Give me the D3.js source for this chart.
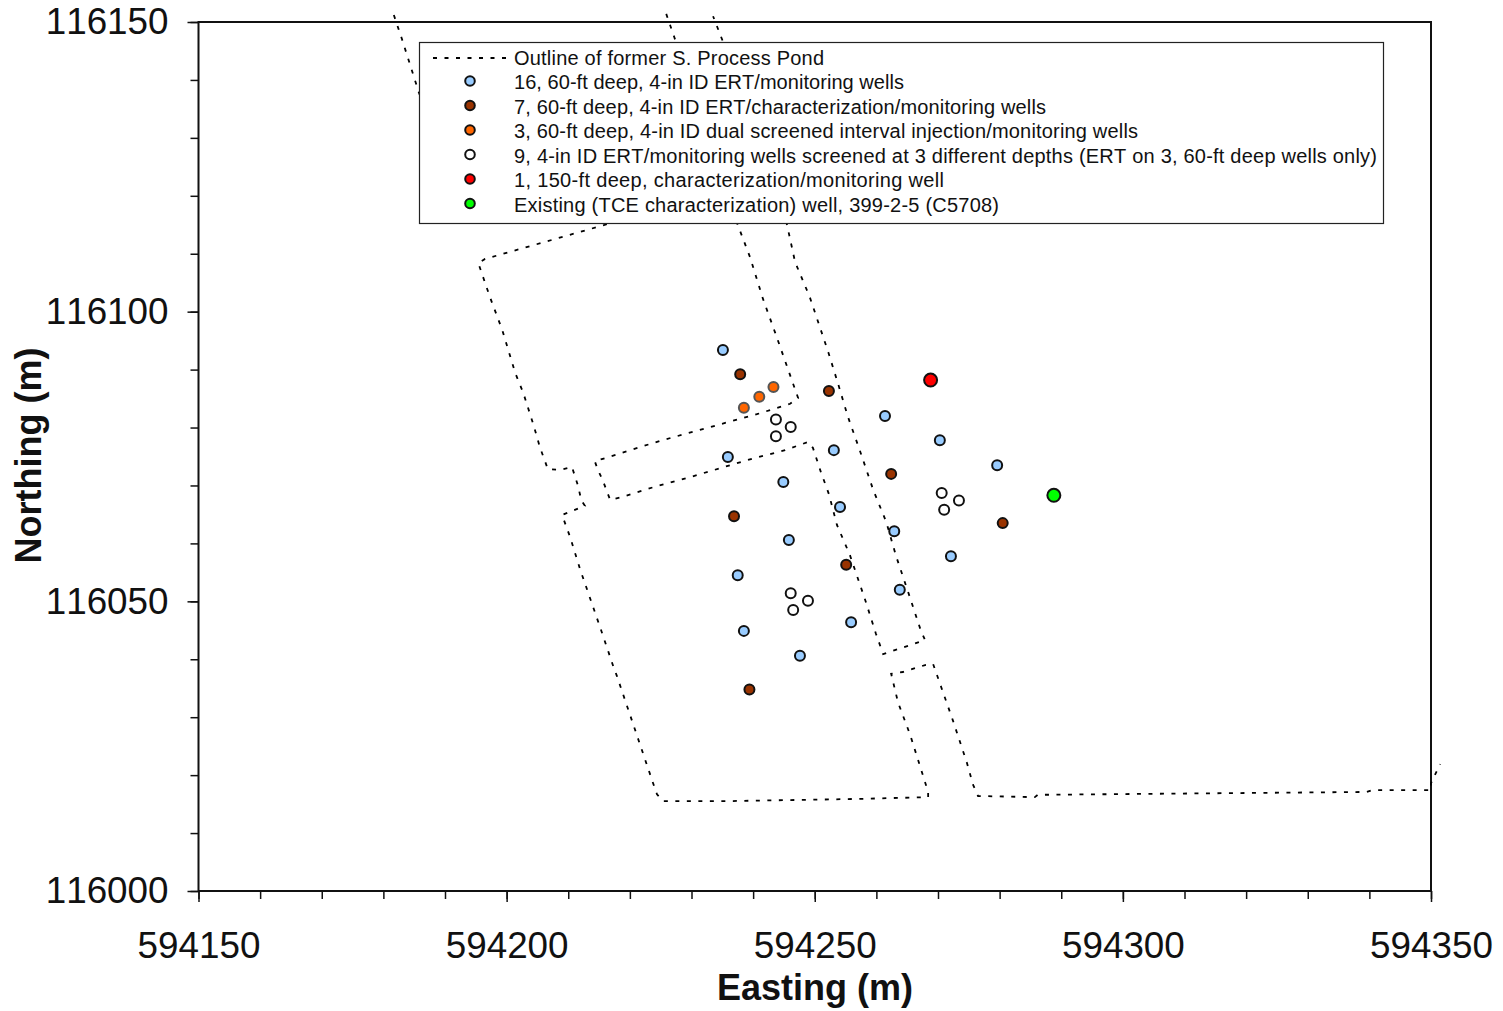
<!DOCTYPE html>
<html>
<head>
<meta charset="utf-8">
<title>Well layout</title>
<script src="https://cdn.jsdelivr.net/npm/d3@7"></script>
<style>
    body { margin: 0; background: #fff; }
    text { font-family: "Liberation Sans", Arial, sans-serif; fill: #111; font-kerning: none; }
    .domain { display: none; }
    .tick line { stroke: #111; stroke-width: 1.5; }
    .outline { fill: none; stroke: #000; stroke-width: 1.8; stroke-dasharray: 4 7.5; }
    .well { stroke: #111; stroke-width: 2; }
</style>
</head>
<body>
<svg id="chart"></svg>
<script>
// Wells, [easting, northing] in metres
const blueWells = [
    [594235.1, 116093.4], [594261.4, 116082.0], [594270.3, 116077.8], [594279.6, 116073.5],
    [594253.1, 116076.1], [594235.9, 116074.9], [594244.9, 116070.6], [594254.1, 116066.3],
    [594262.9, 116062.1], [594272.1, 116057.8], [594245.8, 116060.6], [594237.5, 116054.5],
    [594263.8, 116052.0], [594255.9, 116046.4], [594238.5, 116044.9], [594247.6, 116040.6]
];
const brownWells = [
    [594237.9, 116089.2], [594252.3, 116086.3], [594262.4, 116072.0], [594236.9, 116064.7],
    [594280.5, 116063.5], [594255.1, 116056.3], [594239.4, 116034.8]
];
const orangeWells = [[594238.5, 116083.4], [594241.0, 116085.3], [594243.3, 116087.0]];
const whiteWells = [
    [594243.7, 116081.4], [594246.1, 116080.1], [594243.7, 116078.5],
    [594270.6, 116068.7], [594273.4, 116067.4], [594271.0, 116065.8],
    [594246.1, 116051.4], [594248.9, 116050.1], [594246.5, 116048.5]
];
const redWells = [[594268.8, 116088.2]];
const greenWells = [[594288.8, 116068.3]];

// Outline of the former pond, one array per dotted run
const outlineNorthWest = [
    [594181.7, 116151.2], [594183.0, 116147.1], [594185.8, 116137.7], [594192.4, 116120.1]
];
const outlinePond = [
    [594221.6, 116116.9], [594216.3, 116115.1], [594196.5, 116109.1], [594195.4, 116108.4],
    [594197.3, 116102.5], [594199.3, 116096.8], [594201.4, 116089.4], [594202.7, 116086.0],
    [594204.4, 116080.3], [594205.4, 116076.6], [594206.7, 116072.8], [594208.7, 116072.7],
    [594210.6, 116073.2], [594211.6, 116069.9], [594212.1, 116067.5], [594212.7, 116066.5],
    [594209.0, 116064.9], [594210.3, 116061.1], [594211.9, 116055.6], [594215.5, 116044.5],
    [594217.3, 116038.8], [594217.9, 116037.1], [594223.8, 116018.5], [594224.4, 116016.7],
    [594225.4, 116015.5], [594235.1, 116015.5], [594257.3, 116015.9], [594268.4, 116016.2],
    [594268.4, 116017.1], [594265.5, 116026.9], [594263.5, 116032.6], [594262.4, 116037.5],
    [594264.3, 116037.8], [594267.9, 116039.0], [594269.2, 116039.2], [594272.4, 116029.5],
    [594274.7, 116022.1], [594275.7, 116018.3], [594276.5, 116016.4], [594285.7, 116016.2],
    [594286.2, 116016.6], [594339.6, 116017.1], [594340.4, 116017.4], [594350.0, 116017.4],
    [594350.0, 116018.6], [594350.8, 116020.4], [594351.5, 116021.9]
];
const outlineCorridor = [
    [594225.9, 116151.4], [594227.2, 116147.4], [594237.5, 116115.0], [594239.5, 116109.4],
    [594241.6, 116102.2], [594243.6, 116096.3], [594247.3, 116085.1], [594246.0, 116084.1],
    [594240.6, 116082.3], [594224.9, 116077.7], [594215.6, 116074.6], [594214.3, 116074.2],
    [594214.8, 116072.7], [594215.6, 116070.9], [594216.8, 116067.5], [594218.7, 116068.0],
    [594223.8, 116069.7], [594229.3, 116071.3], [594239.8, 116074.6], [594245.2, 116076.1],
    [594248.9, 116077.5], [594249.7, 116076.5], [594251.0, 116072.3], [594252.3, 116068.5],
    [594253.6, 116063.2], [594255.7, 116058.0], [594258.2, 116050.2], [594259.9, 116044.5],
    [594261.1, 116040.9], [594267.9, 116043.3], [594267.2, 116045.0], [594265.0, 116052.1],
    [594263.2, 116057.8], [594261.6, 116063.7], [594259.5, 116069.2], [594257.3, 116076.1],
    [594255.4, 116081.8], [594253.8, 116087.5], [594252.2, 116093.0], [594249.2, 116102.5],
    [594246.8, 116108.6], [594245.5, 116115.0], [594235.0, 116146.9], [594233.5, 116151.0]
];

const xTicks = [594150, 594200, 594250, 594300, 594350];
const yTicks = [116000, 116050, 116100, 116150];
const xMinorTicks = d3.range(594150, 594351, 10);
const yMinorTicks = d3.range(116000, 116151, 10);

const legendLabels = [
    "Outline of former S. Process Pond",
    "16, 60-ft deep, 4-in ID ERT/monitoring wells",
    "7, 60-ft deep, 4-in ID ERT/characterization/monitoring wells",
    "3, 60-ft deep, 4-in ID dual screened interval injection/monitoring wells",
    "9, 4-in ID ERT/monitoring wells screened at 3 different depths (ERT on 3, 60-ft deep wells only)",
    "1, 150-ft deep, characterization/monitoring well",
    "Existing (TCE characterization) well, 399-2-5 (C5708)"
];
// the original spaces its legend text a bit wider than the font does
const legendTextWidths = [310, 390, 532, 624, 863, 430, 485];

const config = {
    width: 1503,
    height: 1011,
    left: 198.5,
    right: 1431,
    top: 22,
    bottom: 891
};

const svg = d3.select("#chart")
    .attr("width", config.width)
    .attr("height", config.height)
    .style("display", "block");

const x = d3.scaleLinear().domain([594150, 594350]).range([config.left, config.right]);
const y = d3.scaleLinear().domain([116000, 116150]).range([config.bottom, config.top]);

// Minor ticks first, then the long labelled ones
svg.append("g")
    .attr("transform", `translate(0,${config.bottom})`)
    .call(d3.axisBottom(x).tickValues(xMinorTicks).tickSize(8).tickFormat(""));
svg.append("g")
    .attr("transform", `translate(${config.left},0)`)
    .call(d3.axisLeft(y).tickValues(yMinorTicks).tickSize(8).tickFormat(""));

const xAxis = svg.append("g")
    .attr("transform", `translate(0,${config.bottom})`)
    .call(d3.axisBottom(x).tickValues(xTicks).tickSize(11).tickPadding(30).tickFormat(d3.format("d")));
const yAxis = svg.append("g")
    .attr("transform", `translate(${config.left},0)`)
    .call(d3.axisLeft(y).tickValues(yTicks).tickSize(11).tickPadding(19).tickFormat(d3.format("d")));
[xAxis, yAxis].forEach(a => {
    a.attr("font-family", null);
    a.selectAll("text").style("font-size", "36.8px");
});

svg.append("rect")
    .attr("x", config.left)
    .attr("y", config.top)
    .attr("width", config.right - config.left)
    .attr("height", config.bottom - config.top)
    .attr("fill", "none")
    .attr("stroke", "#111")
    .attr("stroke-width", 2);

// Axis titles
svg.append("text")
    .attr("x", 815)
    .attr("y", 1000)
    .attr("text-anchor", "middle")
    .style("font-size", "36px")
    .style("font-weight", "bold")
    .text("Easting (m)");
svg.append("text")
    .attr("transform", "translate(41,455.5) rotate(-90)")
    .attr("text-anchor", "middle")
    .style("font-size", "36px")
    .style("font-weight", "bold")
    .text("Northing (m)");

// Pond outline
const line = d3.line().x(d => x(d[0])).y(d => y(d[1]));
svg.selectAll(".outline")
    .data([outlineNorthWest, outlinePond, outlineCorridor])
    .join("path")
    .attr("class", "outline")
    .attr("d", line);

// Wells
const wellGroups = [
    { wells: blueWells, colour: "#99CCFF", r: 5 },
    { wells: brownWells, colour: "#993300", r: 5 },
    { wells: orangeWells, colour: "#FF6600", r: 5, stroke: "#555" },
    { wells: whiteWells, colour: "#FFFFFF", r: 5 },
    { wells: redWells, colour: "#FF0000", r: 6.5 },
    { wells: greenWells, colour: "#00FF00", r: 6.5 }
];
wellGroups.forEach(g => {
    svg.append("g")
        .selectAll("circle")
        .data(g.wells)
        .join("circle")
        .attr("class", "well")
        .attr("cx", d => x(d[0]))
        .attr("cy", d => y(d[1]))
        .attr("r", g.r)
        .attr("fill", g.colour)
        .style("stroke", g.stroke || null);
});

// Legend sits on top of the outline and hides part of it
const legend = svg.append("g");
legend.append("rect")
    .attr("x", 419.5)
    .attr("y", 42.5)
    .attr("width", 964)
    .attr("height", 181)
    .attr("fill", "#fff")
    .attr("stroke", "#222")
    .attr("stroke-width", 1.2);

const rowY = d3.scaleLinear().domain([0, 6]).range([58, 205]);
legend.append("line")
    .attr("class", "outline")
    .attr("x1", 433)
    .attr("x2", 506)
    .attr("y1", rowY(0))
    .attr("y2", rowY(0));

legend.selectAll(".legend-well")
    .data(wellGroups)
    .join("circle")
    .attr("class", "well legend-well")
    .attr("cx", 470)
    .attr("cy", (d, i) => rowY(i + 1) - 1.5)
    .attr("r", 4.8)
    .attr("fill", d => d.colour);

legend.selectAll(".legend-label")
    .data(legendLabels)
    .join("text")
    .attr("class", "legend-label")
    .attr("x", 514)
    .attr("y", (d, i) => rowY(i) + 6.8)
    .attr("textLength", (d, i) => legendTextWidths[i])
    .attr("lengthAdjust", "spacing")
    .style("font-size", "20px")
    .text(d => d);
</script>
</body>
</html>
